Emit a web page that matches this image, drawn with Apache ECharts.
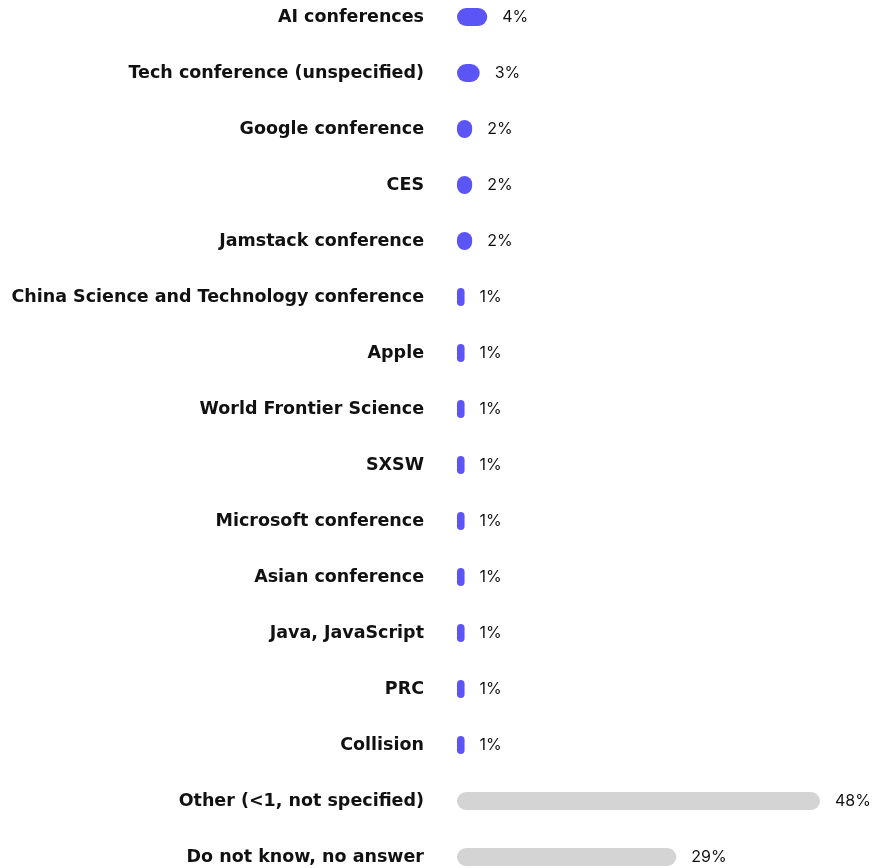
<!DOCTYPE html>
<html>
<head>
<meta charset="utf-8">
<script src="https://cdn.jsdelivr.net/npm/echarts@6/dist/echarts.min.js"></script>
<style>
html,body{margin:0;padding:0;background:#fff;overflow:hidden;width:876px;height:868px;position:relative;}
#chart{position:absolute;left:0;top:-11px;width:876px;height:900px;}
</style>
</head>
<body>
<div id="chart"></div>
<script>
const categories = [
  "AI conferences",
  "Tech conference (unspecified)",
  "Google conference",
  "CES",
  "Jamstack conference",
  "China Science and Technology conference",
  "Apple",
  "World Frontier Science",
  "SXSW",
  "Microsoft conference",
  "Asian conference",
  "Java, JavaScript",
  "PRC",
  "Collision",
  "Other (<1, not specified)",
  "Do not know, no answer"
];
const values = [4, 3, 2, 2, 2, 1, 1, 1, 1, 1, 1, 1, 1, 1, 48, 29];
const greyCategories = ["Other (<1, not specified)", "Do not know, no answer"];

const chart = echarts.init(document.getElementById('chart'));
chart.setOption({
  animation: false,
  grid: { left: 457, right: 56, top: 0, height: 896, containLabel: false },
  xAxis: { type: 'value', min: 0, max: 48, show: false },
  yAxis: {
    type: 'category',
    data: categories,
    inverse: true,
    axisLine: { show: false },
    axisTick: { show: false },
    axisLabel: {
      margin: 33,
      fontFamily: 'DejaVu Sans, sans-serif',
      fontWeight: 'bold',
      fontSize: 17.5,
      color: '#111111'
    }
  },
  series: [{
    type: 'bar',
    barWidth: 18,
    data: values.map((v, i) => ({
      value: v,
      itemStyle: { color: greyCategories.includes(categories[i]) ? '#D4D4D4' : '#5C55F6' }
    })),
    itemStyle: { borderRadius: 9 },
    label: {
      show: true,
      position: 'right',
      distance: 15,
      formatter: '{c}%',
      fontFamily: 'Inter, sans-serif',
      fontSize: 16,
      color: '#111111'
    }
  }]
});
</script>
</body>
</html>
